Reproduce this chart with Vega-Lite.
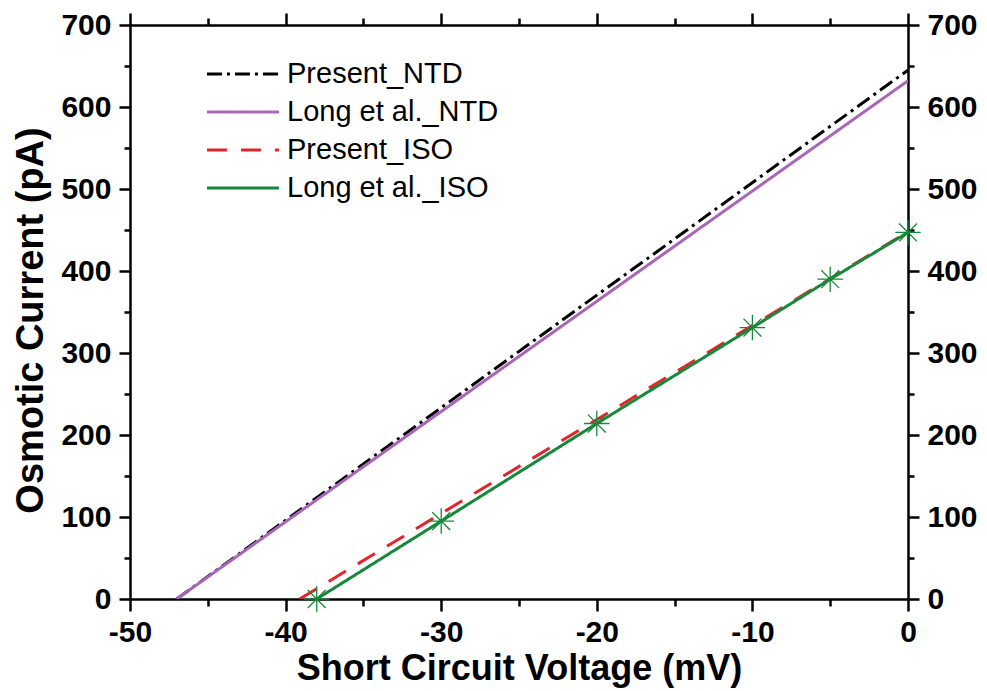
{
  "$schema": "https://vega.github.io/schema/vega-lite/v6.json",
  "width": 778,
  "height": 574,
  "autosize": "none",
  "padding": {"left": 130, "top": 25, "right": 79, "bottom": 92},
  "background": "white",
  "config": {
    "view": {"stroke": null},
    "font": "Liberation Sans",
    "axis": {
      "grid": false,
      "domainColor": "black",
      "domainWidth": 2.5,
      "tickColor": "black",
      "tickWidth": 2.5,
      "labelFont": "Liberation Sans",
      "labelFontWeight": "bold",
      "labelFontSize": 30,
      "labelColor": "black",
      "titleFont": "Liberation Sans",
      "titleFontWeight": "bold",
      "titleFontSize": 36,
      "titleColor": "black",
      "labelOverlap": false,
      "labelFlush": false
    },
    "legend": {
      "orient": "none",
      "legendX": 93,
      "legendY": 29,
      "symbolType": "M-2,0L2,0",
      "symbolSize": 1300,
      "symbolStrokeWidth": 3,
      "labelFont": "Liberation Sans",
      "labelFontSize": 29,
      "labelColor": "black",
      "labelLimit": 0,
      "rowPadding": 3,
      "labelOffset": 24
    }
  },
  "datasets": {
    "lines": [
      {"series": "Present_NTD", "voltage": -47.0, "current": 0},
      {"series": "Present_NTD", "voltage": 0, "current": 645},
      {"series": "Long et al._NTD", "voltage": -47.0, "current": 0},
      {"series": "Long et al._NTD", "voltage": 0, "current": 632},
      {"series": "Present_ISO", "voltage": -39.1, "current": 0},
      {"series": "Present_ISO", "voltage": 0, "current": 448},
      {"series": "Long et al._ISO", "voltage": -38, "current": 0},
      {"series": "Long et al._ISO", "voltage": -30, "current": 95},
      {"series": "Long et al._ISO", "voltage": -20, "current": 214},
      {"series": "Long et al._ISO", "voltage": -10, "current": 331},
      {"series": "Long et al._ISO", "voltage": -5, "current": 390},
      {"series": "Long et al._ISO", "voltage": 0, "current": 447}
    ]
  },
  "layer": [
    {
      "data": {"name": "lines"},
      "mark": {"type": "line", "clip": true},
      "encoding": {
        "x": {
          "field": "voltage", "type": "quantitative",
          "scale": {"domain": [-50, 0], "nice": false, "zero": false},
          "axis": {
            "orient": "bottom",
            "title": "Short Circuit Voltage (mV)",
            "values": [-50, -45, -40, -35, -30, -25, -20, -15, -10, -5, 0],
            "labelExpr": "datum.value % 10 === 0 ? toString(datum.value) : ''",
            "tickSize": {"condition": {"test": "datum.value % 10 !== 0", "value": 7}, "value": 12},
            "labelPadding": 6,
            "titlePadding": 4
          }
        },
        "y": {
          "field": "current", "type": "quantitative",
          "scale": {"domain": [0, 700], "nice": false},
          "axis": {
            "orient": "left",
            "title": "Osmotic Current (pA)",
            "values": [0, 50, 100, 150, 200, 250, 300, 350, 400, 450, 500, 550, 600, 650, 700],
            "labelExpr": "datum.value % 100 === 0 ? toString(datum.value) : ''",
            "tickSize": {"condition": {"test": "datum.value % 100 !== 0", "value": 6}, "value": 11},
            "labelPadding": 8,
            "titlePadding": 10,
            "titleFontSize": 38,
            "titleY": 295
          }
        },
        "color": {
          "field": "series", "type": "nominal",
          "scale": {
            "domain": ["Present_NTD", "Long et al._NTD", "Present_ISO", "Long et al._ISO"],
            "range": ["#000000", "#a966b8", "#e3252b", "#17883a"]
          },
          "legend": {"title": null}
        },
        "strokeDash": {
          "field": "series", "type": "nominal",
          "scale": {
            "domain": ["Present_NTD", "Long et al._NTD", "Present_ISO", "Long et al._ISO"],
            "range": [[15, 5, 3, 5], [1, 0], [20, 14], [1, 0]]
          },
          "legend": {"title": null}
        },
        "strokeWidth": {
          "field": "series", "type": "nominal",
          "scale": {
            "domain": ["Present_NTD", "Long et al._NTD", "Present_ISO", "Long et al._ISO"],
            "range": [3, 3, 4.5, 3]
          },
          "legend": null
        },
        "order": {"field": "voltage", "type": "quantitative"}
      }
    },
    {
      "data": {"name": "lines"},
      "transform": [{"filter": "datum.series === 'Long et al._ISO'"}],
      "mark": {
        "type": "point",
        "shape": "M0,-1L0,1M-1,0L1,0M-0.7,-0.7L0.7,0.7M-0.7,0.7L0.7,-0.7",
        "filled": false,
        "color": "#17883a",
        "strokeWidth": 1.3,
        "size": 650,
        "opacity": 1,
        "clip": false
      },
      "encoding": {
        "x": {
          "field": "voltage", "type": "quantitative",
          "axis": {
            "orient": "top",
            "title": null,
            "values": [-50, -45, -40, -35, -30, -25, -20, -15, -10, -5, 0],
            "labels": false,
            "tickSize": {"condition": {"test": "datum.value % 10 !== 0", "value": 7}, "value": 12}
          }
        },
        "y": {
          "field": "current", "type": "quantitative",
          "axis": {
            "orient": "right",
            "title": null,
            "values": [0, 50, 100, 150, 200, 250, 300, 350, 400, 450, 500, 550, 600, 650, 700],
            "labelExpr": "datum.value % 100 === 0 ? toString(datum.value) : ''",
            "tickSize": {"condition": {"test": "datum.value % 100 !== 0", "value": 6}, "value": 11},
            "labelPadding": 8
          }
        }
      }
    }
  ],
  "resolve": {"axis": {"x": "independent", "y": "independent"}}
}
